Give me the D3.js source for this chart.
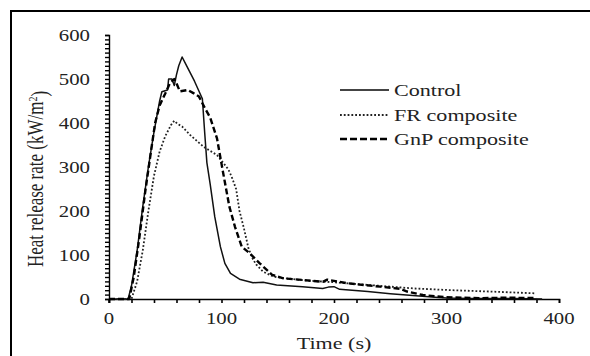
<!DOCTYPE html>
<html>
<head>
<meta charset="utf-8">
<script src="https://cdn.jsdelivr.net/npm/d3@7"></script>
<style>
  body { margin: 0; background: #fff; }
  svg { display: block; }
</style>
</head>
<body>
<div id="chart"></div>
<script>
// Data (time in s, heat release rate in kW/m2)
const controlTime = [0, 17, 20, 25, 30, 35, 40, 45, 47, 52, 53, 56, 58, 60, 62, 65, 68, 72, 76, 80, 83, 85, 87, 90, 94, 99, 103, 108, 116, 128, 137, 149, 172, 190, 195, 200, 205, 230, 250, 270, 290, 300, 320, 340, 360, 385]
const controlHrr  = [0, 0, 30, 110, 210, 300, 380, 450, 471, 475, 500, 500, 485, 510, 530, 550, 535, 515, 495, 472, 455, 380, 310, 260, 187, 119, 81, 58, 45, 37, 38, 32, 28, 24, 27, 28, 22, 17, 12, 8, 4, 2, 1, 1, 1, 0]

const frTime = [0, 20, 25, 30, 35, 40, 45, 50, 55, 58, 61, 65, 72, 84, 96, 102, 106, 109, 113, 116, 120, 124, 128, 131, 137, 146, 157, 175, 200, 230, 271, 305, 338, 378]
const frHrr  = [0, 0, 40, 110, 200, 280, 335, 370, 395, 405, 398, 392, 373, 346, 327, 308, 295, 278, 250, 200, 160, 115, 90, 78, 62, 51, 47, 42, 38, 32, 24, 20, 17, 13]

const gnpTime = [0, 18, 22, 27, 32, 37, 41, 45, 50, 54, 58, 60, 63, 70, 75, 80, 85, 90, 96, 101, 107, 112, 118, 125, 134, 145, 155, 173, 190, 194, 205, 211, 241, 259, 265, 279, 300, 330, 355, 380]
const gnpHrr  = [0, 0, 50, 140, 240, 330, 400, 440, 467, 490, 500, 490, 472, 475, 468, 460, 435, 412, 365, 293, 210, 164, 119, 104, 81, 55, 47, 43, 39, 44, 39, 36, 28, 23, 17, 9, 4, 2, 3, 2]

const xTickLabels = [0, 100, 200, 300, 400]
const yTickLabels = [0, 100, 200, 300, 400, 500, 600]
const seriesNames = ["Control", "FR composite", "GnP composite"]

// Layout
const width = 590
const height = 356
const plot = {left: 109, right: 559, top: 35, bottom: 299}
const stretch = 1.3  // the reference glyphs are wider than tall
const fontFamily = "'Liberation Serif', 'Times New Roman', serif"

const svg = d3.select("#chart")
  .append("svg")
    .attr("width", width)
    .attr("height", height)

// Frame (only top and left edges are visible)
svg.append("rect")
  .attr("x", 11)
  .attr("y", 11)
  .attr("width", width + 20)
  .attr("height", height + 20)
  .attr("fill", "none")
  .attr("stroke", "#000")
  .attr("stroke-width", 2)

const xScale = d3.scaleLinear().domain([0, 400]).range([plot.left, plot.right])
const yScale = d3.scaleLinear().domain([0, 600]).range([plot.bottom, plot.top])

// Axes with minor ticks, no labels
svg.append("g")
  .attr("transform", `translate(0,${plot.bottom})`)
  .call(d3.axisBottom(xScale)
    .tickValues(d3.range(0, 401, 20))
    .tickSizeInner(4)
    .tickSizeOuter(4)
    .tickFormat(""))
  .call(g => g.selectAll("line, path").attr("stroke", "#000").attr("stroke-width", 1.6))

svg.append("g")
  .attr("transform", `translate(${plot.left},0)`)
  .call(d3.axisLeft(yScale)
    .tickValues(d3.range(0, 601, 10))
    .tickSizeInner(4)
    .tickSizeOuter(4)
    .tickFormat(""))
  .call(g => g.selectAll("line, path").attr("stroke", "#000").attr("stroke-width", 1.4))

// small stub below the origin
svg.append("line")
  .attr("x1", plot.left).attr("x2", plot.left)
  .attr("y1", plot.bottom).attr("y2", plot.bottom + 4)
  .attr("stroke", "#000").attr("stroke-width", 1.4)

// Tick labels
svg.selectAll(".x-label")
  .data(xTickLabels)
  .enter().append("text")
    .attr("class", "x-label")
    .attr("transform", d => `translate(${xScale(d)},324) scale(${stretch},1)`)
    .attr("text-anchor", "middle")
    .style("font-family", fontFamily)
    .style("font-size", "16px")
    .attr("fill", "#222")
    .text(d => d)

svg.selectAll(".y-label")
  .data(yTickLabels)
  .enter().append("text")
    .attr("class", "y-label")
    .attr("transform", d => `translate(90,${yScale(d)}) scale(${stretch},1)`)
    .attr("dy", "0.35em")
    .attr("text-anchor", "end")
    .style("font-family", fontFamily)
    .style("font-size", "16px")
    .attr("fill", "#222")
    .text(d => d)

// Axis titles
svg.append("text")
  .attr("transform", `translate(${(plot.left + plot.right) / 2},349) scale(${stretch},1)`)
  .attr("text-anchor", "middle")
  .style("font-family", fontFamily)
  .style("font-size", "17px")
  .attr("fill", "#222")
  .text("Time (s)")

const yTitle = svg.append("text")
  .attr("transform", `translate(35,179) scale(${stretch},1) rotate(-90)`)
  .attr("dy", "0.35em")
  .attr("text-anchor", "middle")
  .style("font-family", fontFamily)
  .style("font-size", "17px")
  .attr("fill", "#222")
yTitle.append("tspan").text("Heat release rate (kW/m")
yTitle.append("tspan").attr("dy", "-0.45em").style("font-size", "10px").text("2")
yTitle.append("tspan").attr("dy", "0.45em").text(")")

// Lines
const series = [
  {time: controlTime, hrr: controlHrr, stroke: "#111", width: 1.5, dash: null},
  {time: frTime, hrr: frHrr, stroke: "#222", width: 1.8, dash: "1.8,2"},
  {time: gnpTime, hrr: gnpHrr, stroke: "#000", width: 2.4, dash: "6,3"},
]

const line = d3.line()
  .x(d => xScale(d[0]))
  .y(d => yScale(d[1]))

series.forEach(function(s) {
  svg.append("path")
    .datum(d3.zip(s.time, s.hrr))
    .attr("fill", "none")
    .attr("stroke", s.stroke)
    .attr("stroke-width", s.width)
    .attr("stroke-dasharray", s.dash)
    .attr("stroke-linejoin", "round")
    .attr("d", line)
})

// Legend
const legendY = [90, 115, 139]
series.forEach(function(s, i) {
  svg.append("line")
    .attr("x1", 340).attr("x2", 389)
    .attr("y1", legendY[i]).attr("y2", legendY[i])
    .attr("stroke", i === 0 ? "#444" : s.stroke)
    .attr("stroke-width", i === 0 ? 2 : s.width)
    .attr("stroke-dasharray", i === 2 ? "7,3" : s.dash)

  svg.append("text")
    .attr("transform", `translate(394,${legendY[i]}) scale(${stretch},1)`)
    .attr("dy", "0.35em")
    .style("font-family", fontFamily)
    .style("font-size", "17px")
    .attr("fill", "#222")
    .text(seriesNames[i])
})
</script>
</body>
</html>
